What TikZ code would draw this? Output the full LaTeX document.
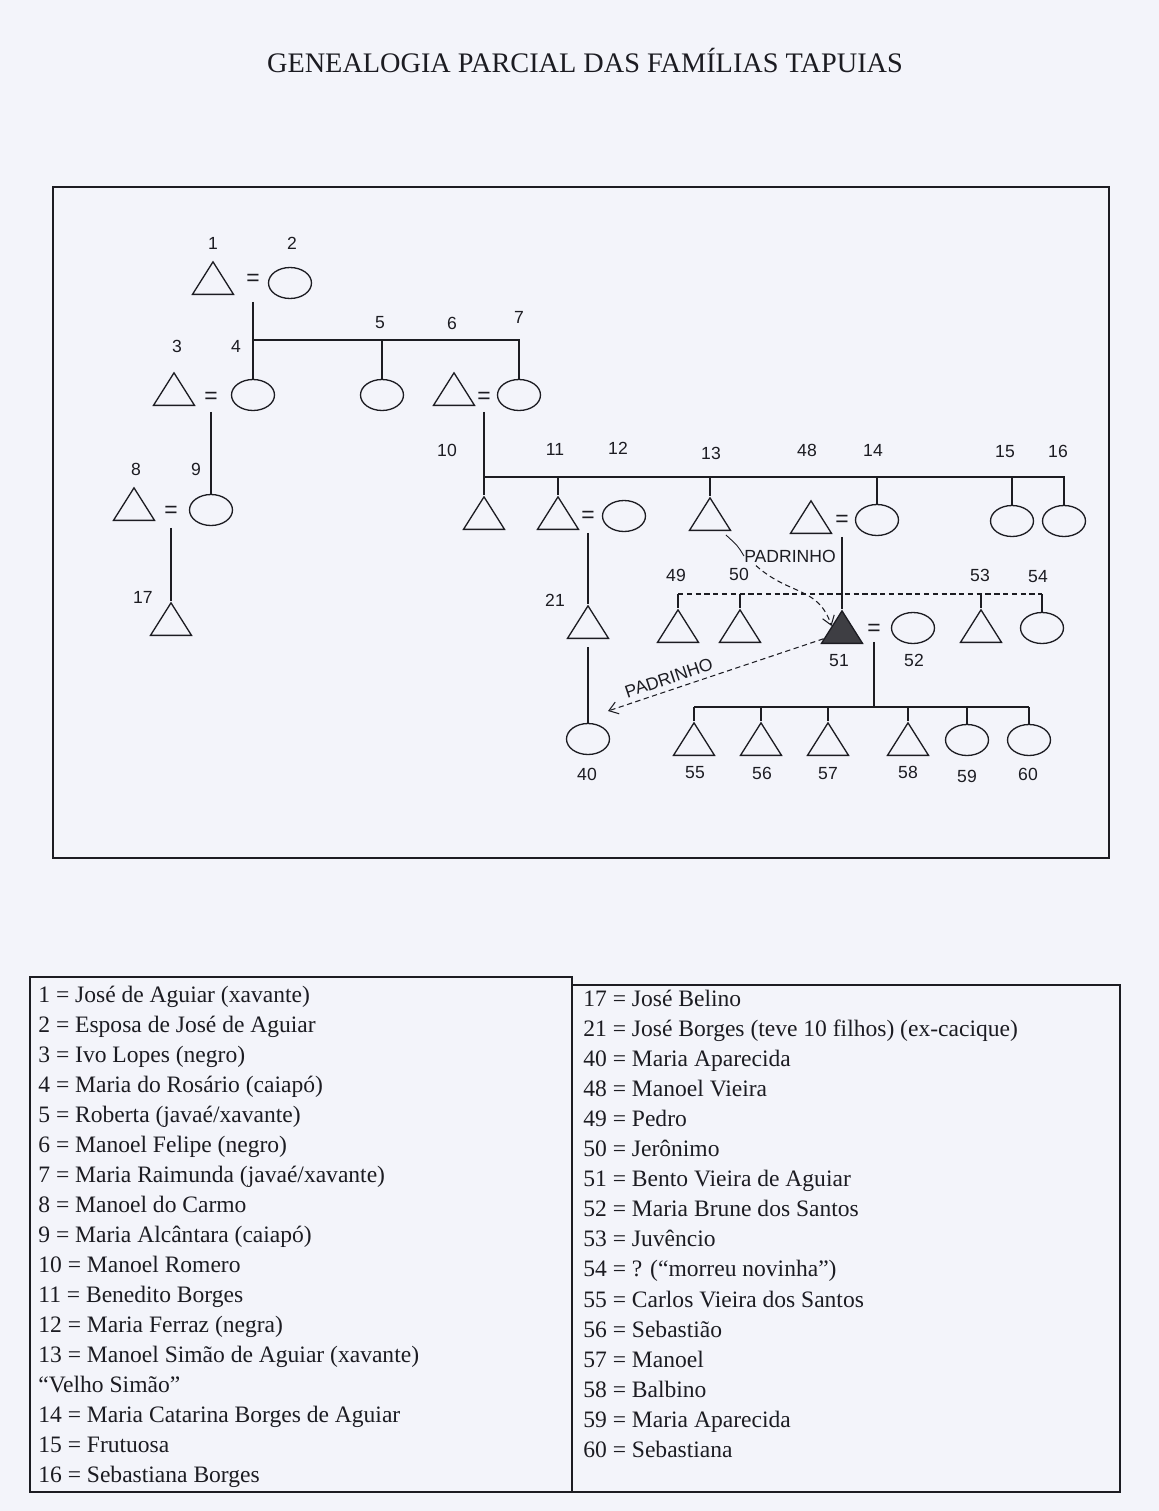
\documentclass[tikz,border=0pt]{standalone}
\usepackage{fontspec}
\setmainfont{Liberation Serif}
\setsansfont{Liberation Sans}
\usetikzlibrary{arrows.meta,calc,shapes.geometric}
\definecolor{paper}{HTML}{F3F4FA}
\definecolor{ink}{HTML}{1C1C22}
\newcommand{\titlefont}{\fontsize{16.1}{19}\selectfont}
\newcommand{\keyfont}{\fontsize{13.4}{16}\selectfont}
\newcommand{\lblfont}{\sffamily\fontsize{10}{12}\selectfont}

\begin{document}
\begin{tikzpicture}[x=0.02cm,y=-0.02cm,ink,
  man/.style={draw,line width=0.75pt,isosceles triangle,isosceles triangle stretches,shape border rotate=90,minimum width=0.82cm,minimum height=0.65cm,inner sep=0pt,anchor=south},
  woman/.style={draw,line width=0.75pt,ellipse,minimum width=0.86cm,minimum height=0.62cm,inner sep=0pt},
  wed/.style={inner sep=0pt,font=\sffamily\fontsize{13}{13}\selectfont},
  lbl/.style={inner sep=0pt,font=\lblfont},
  kin/.style={line width=0.95pt},
  pad/.style={line width=0.6pt,densely dashed,-{Straight Barb[length=5pt,width=7pt]}},
  key/.style={anchor=base west,inner sep=0pt,font=\keyfont}]
  \useasboundingbox (0,0) rectangle (1159,1511);
  \fill[paper] (0,0) rectangle (1159,1511);
  \node[font=\titlefont] (title) at (585,60) {GENEALOGIA PARCIAL DAS FAMÍLIAS TAPUIAS};
  \draw[line width=0.6pt] (53,187) rectangle (1109,858);
  % persons
  \node[man] (p1) at (213,295) {};
  \node[wed] (m1) at (253,280) {=};
  \node[woman] (p2) at (290,283) {};
  \node[man] (p3) at (174,406) {};
  \node[wed] (m3) at (211,398) {=};
  \node[woman] (p4) at (253,395) {};
  \node[woman] (p5) at (382,395) {};
  \node[man] (p6) at (454,406) {};
  \node[wed] (m6) at (484,398) {=};
  \node[woman] (p7) at (519,395) {};
  \node[man] (p8) at (134,521) {};
  \node[wed] (m8) at (171,512) {=};
  \node[woman] (p9) at (211,510) {};
  \node[man] (p10) at (484,530) {};
  \node[man] (p11) at (558,530) {};
  \node[wed] (m11) at (588,517) {=};
  \node[woman] (p12) at (624,516) {};
  \node[man] (p13) at (710,531) {};
  \node[man] (p48) at (811,534) {};
  \node[wed] (m48) at (842,521) {=};
  \node[woman] (p14) at (877,520) {};
  \node[woman] (p15) at (1012,521) {};
  \node[woman] (p16) at (1064,521) {};
  \node[man] (p17) at (171,636) {};
  \node[man] (p21) at (588,639) {};
  \node[man] (p49) at (678,643) {};
  \node[man] (p50) at (740,643) {};
  \node[man,fill=ink!85] (p51) at (842,644) {};
  \node[wed] (m51) at (874,630) {=};
  \node[woman] (p52) at (913,628) {};
  \node[man] (p53) at (981,643) {};
  \node[woman] (p54) at (1042,628) {};
  \node[woman] (p40) at (588,739) {};
  \node[man] (p55) at (694,756) {};
  \node[man] (p56) at (761,756) {};
  \node[man] (p57) at (828,756) {};
  \node[man] (p58) at (908,756) {};
  \node[woman] (p59) at (967,740) {};
  \node[woman] (p60) at (1029,740) {};
  % numbers
  \node[lbl] (n1) at (213,243) {1};
  \node[lbl] (n2) at (292,243) {2};
  \node[lbl] (n3) at (177,346) {3};
  \node[lbl] (n4) at (236,346) {4};
  \node[lbl] (n5) at (380,323) {5};
  \node[lbl] (n6) at (452,323) {6};
  \node[lbl] (n7) at (519,317) {7};
  \node[lbl] (n8) at (136,469) {8};
  \node[lbl] (n9) at (196,469) {9};
  \node[lbl] (n10) at (447,450) {10};
  \node[lbl] (n11) at (555,449) {11};
  \node[lbl] (n12) at (618,448) {12};
  \node[lbl] (n13) at (711,453) {13};
  \node[lbl] (n48) at (807,450) {48};
  \node[lbl] (n14) at (873,450) {14};
  \node[lbl] (n15) at (1005,452) {15};
  \node[lbl] (n16) at (1058,451) {16};
  \node[lbl] (n17) at (143,597) {17};
  \node[lbl] (n21) at (555,600) {21};
  \node[lbl] (n49) at (676,575) {49};
  \node[lbl] (n50) at (739,574) {50};
  \node[lbl] (n53) at (980,575) {53};
  \node[lbl] (n54) at (1038,577) {54};
  \node[lbl] (n51) at (839,661) {51};
  \node[lbl] (n52) at (914,660) {52};
  \node[lbl] (n40) at (587,774) {40};
  \node[lbl] (n55) at (695,773) {55};
  \node[lbl] (n56) at (762,773) {56};
  \node[lbl] (n57) at (828,774) {57};
  \node[lbl] (n58) at (908,772) {58};
  \node[lbl] (n59) at (967,776) {59};
  \node[lbl] (n60) at (1028,774) {60};
  % descent lines
  \coordinate (bar1) at (0,340);
  \coordinate (bar6) at (0,477);
  \coordinate (bar48) at (0,594);
  \coordinate (bar51) at (0,707);
  \draw[kin] ($(m1.south)+(0,16)$) -- (p4.north);
  \draw[kin] (p4.north |- bar1) -- (p7.north |- bar1) -- (p7.north);
  \draw[kin] (p5.north |- bar1) -- (p5.north);
  \draw[kin] ($(m3.south)+(0,8)$) -- (p9.north);
  \draw[kin] ($(m6.south)+(0,8)$) -- (p10.north);
  \draw[kin] (p10.north |- bar6) -- (p16.north |- bar6) -- (p16.north);
  \foreach \c in {p11,p13,p14,p15} \draw[kin] (\c.north |- bar6) -- (\c.north);
  \draw[kin] ($(m8.south)+(0,10)$) -- (p17.north);
  \draw[kin] ($(m11.south)+(0,10)$) -- (p21.north);
  \draw[kin] ($(p21.south)+(0,8)$) -- (p40.north);
  \draw[kin] ($(m48.south)+(0,10)$) -- (p51.north);
  \draw[kin,densely dashed] (p49.north |- bar48) -- (p54.north |- bar48);
  \foreach \c in {p49,p50,p53,p54} \draw[kin] (\c.north |- bar48) -- (\c.north);
  \draw[kin] ($(m51.south)+(0,6)$) -- (m51 |- bar51);
  \draw[kin] (p55.north |- bar51) -- (p60.north |- bar51);
  \foreach \c in {p55,p56,p57,p58,p59,p60} \draw[kin] (\c.north |- bar51) -- (\c.north);
  % padrinho
  \node[lbl] (pad1) at (790,556) {PADRINHO};
  \draw[line width=0.5pt] ($(p13.south east)+(4,4)$) .. controls (738,546) .. (pad1.west);
  \draw[pad] ($(pad1.south west)+(12,3)$) .. controls (790,596) and (818,586) .. (p51.150);
  \coordinate (tip40) at (608,711);
  \draw[pad] (p51.200) -- (tip40) node[lbl,pos=0.7,sloped,above=3pt] (pad2) {PADRINHO};
  % key
  \draw[line width=0.6pt] (30,977) rectangle (572,1492);
  \draw[line width=0.6pt] (572,985) -- (1120,985) -- (1120,1492) -- (572,1492);
  \foreach \t [count=\i from 0] in {1 = José de Aguiar (xavante),2 = Esposa de José de Aguiar,3 = Ivo Lopes (negro),4 = Maria do Rosário (caiapó),5 = Roberta (javaé/xavante),6 = Manoel Felipe (negro),7 = Maria Raimunda (javaé/xavante),8 = Manoel do Carmo,9 = Maria Alcântara (caiapó),10 = Manoel Romero,11 = Benedito Borges,12 = Maria Ferraz (negra),13 = Manoel Simão de Aguiar (xavante),“Velho Simão”,14 = Maria Catarina Borges de Aguiar,15 = Frutuosa,16 = Sebastiana Borges}
    \node[key] (ka\i) at (38,{1002+30*\i}) {\t};
  \foreach \t [count=\i from 0] in {17 = José Belino,21 = José Borges (teve 10 filhos) (ex-cacique),40 = Maria Aparecida,48 = Manoel Vieira,49 = Pedro,50 = Jerônimo,51 = Bento Vieira de Aguiar,52 = Maria Brune dos Santos,53 = Juvêncio,54 = ? (“morreu novinha”),55 = Carlos Vieira dos Santos,56 = Sebastião,57 = Manoel,58 = Balbino,59 = Maria Aparecida,60 = Sebastiana}
    \node[key] (kb\i) at (583,{1006+30.1*\i}) {\t};
\end{tikzpicture}
\end{document}
